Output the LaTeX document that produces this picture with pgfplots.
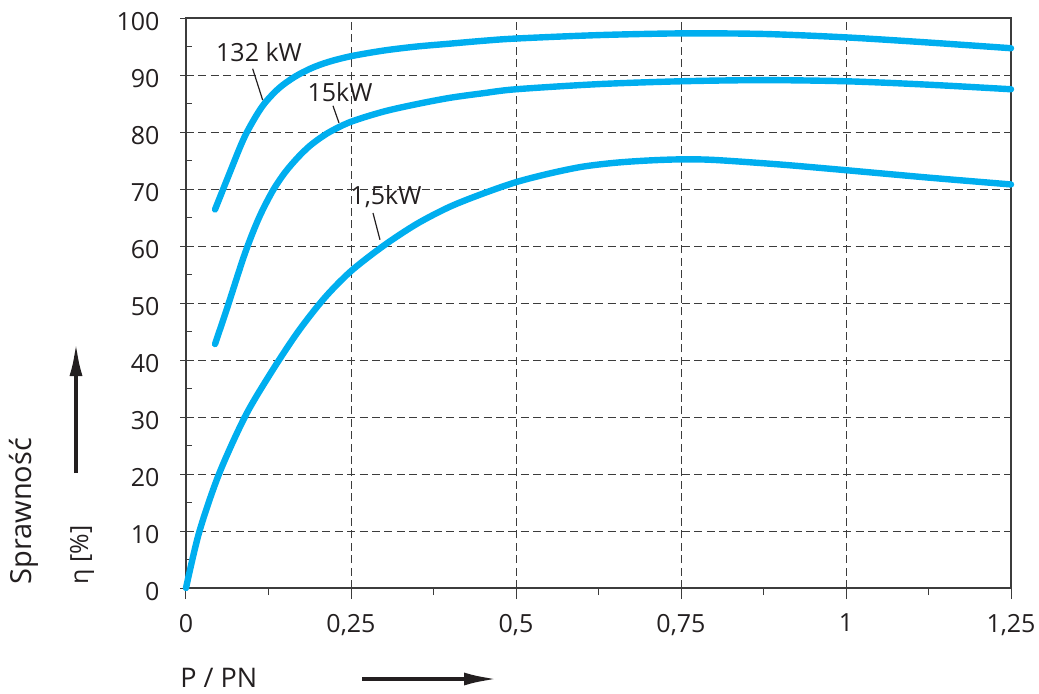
\documentclass[border=0pt]{standalone}
\usepackage{fontspec}
\setmainfont{Open Sans}
\usepackage{pgfplots}
\pgfplotsset{compat=1.18}
\usetikzlibrary{arrows.meta}
\definecolor{lc}{RGB}{0,174,239}
\definecolor{tx}{RGB}{35,31,32}
\definecolor{gr}{RGB}{60,60,60}
\begin{document}
\begin{tikzpicture}
\path[use as bounding box] (-93pt,-52.5pt) rectangle (426.5pt,294pt);
\begin{axis}[
  at={(0,0)}, anchor=south west,
  scale only axis, width=412.5pt, height=285pt,
  xmin=0, xmax=1.25, ymin=0, ymax=100,
  xtick={0,0.25,0.5,0.75,1,1.25},
  xticklabels={0,{0,25},{0,5},{0,75},1,{1,25}},
  minor xtick={0.125,0.375,0.625,0.875,1.125},
  ytick={0,10,...,100},
  minor ytick={5,15,...,95},
  xtick pos=bottom, ytick pos=left,
  xtick align=outside, ytick align=center,
  major tick length=5.5pt, minor tick length=3.5pt,
  tick style={gr, line width=0.5pt},
  minor y tick style={xshift=1.5pt},
  grid=major,
  major grid style={gr, dashed, dash pattern=on 4pt off 2.2pt, line width=0.5pt},
  axis line style={gr, line width=0.7pt},
  /pgf/number format/assume math mode=true,
  tick label style={font=\fontsize{12.5}{14}\selectfont, text=tx},
  xticklabel style={yshift=-4pt},
  yticklabel style={xshift=-7pt, yshift=-2pt},
  clip=false,
]
\addplot[lc, line width=3.2pt, line cap=round, smooth] coordinates {
(0.044,66.4) (0.064,72.2) (0.089,79.2) (0.115,84.4) (0.140,87.6) (0.165,89.7) (0.190,91.2) (0.216,92.3) (0.25,93.3) (0.3,94.3) (0.35,95.0) (0.4,95.5) (0.45,96.0) (0.5,96.4) (0.625,97.0) (0.75,97.3) (0.875,97.2) (1.0,96.6) (1.125,95.7) (1.25,94.7)};
\addplot[lc, line width=3.2pt, line cap=round, smooth] coordinates {
(0.044,42.8) (0.062,49.0) (0.089,58.6) (0.110,64.8) (0.131,69.6) (0.150,72.9) (0.170,75.6) (0.190,77.8) (0.216,79.9) (0.25,81.8) (0.3,83.6) (0.35,84.9) (0.4,86.0) (0.45,86.8) (0.5,87.5) (0.625,88.4) (0.75,88.9) (0.875,89.1) (1.0,88.9) (1.125,88.3) (1.25,87.5)};
\addplot[lc, line width=3.2pt, line cap=round, smooth] coordinates {
(0,0) (0.02,9.8) (0.05,20.0) (0.09,30.2) (0.13,38.0) (0.17,45.0) (0.21,50.9) (0.25,55.6) (0.30,60.1) (0.35,63.9) (0.40,66.9) (0.45,69.2) (0.50,71.2) (0.55,72.7) (0.60,73.9) (0.65,74.6) (0.70,75.0) (0.75,75.2) (0.80,75.1) (0.90,74.3) (1.00,73.3) (1.125,72.0) (1.25,70.8)};
\node[text=tx, font=\fontsize{12.5}{14}\selectfont, inner sep=0] at (axis cs:0.1106,94.0) {132 kW};
\node[text=tx, font=\fontsize{12.5}{14}\selectfont, inner sep=0] at (axis cs:0.2333,87.0) {15kW};
\node[text=tx, font=\fontsize{12.5}{14}\selectfont, inner sep=0] at (axis cs:0.3030,68.6) {1,5kW};
\draw[tx, line width=0.6pt] (axis cs:0.1010,91.1) -- (axis cs:0.1162,85.6);
\draw[tx, line width=0.6pt] (axis cs:0.2227,84.6) -- (axis cs:0.2318,81.6);
\draw[tx, line width=0.6pt] (axis cs:0.2833,65.8) -- (axis cs:0.2939,61.1);
\end{axis}
\node[rotate=90, anchor=west, inner sep=0, text=tx, font=\fontsize{14.5}{16}\selectfont] at (-81pt,1.5pt) {Sprawność};
\node[rotate=90, anchor=west, inner sep=0, text=tx, font=\fontsize{12.5}{14}\selectfont] at (-52pt,1.5pt) {η [\%]};
\draw[tx, line width=2pt, -{Latex[length=17pt,width=6.5pt]}] (-55pt,57.5pt) -- (-55pt,123pt);
\node[anchor=west, inner sep=0, text=tx, font=\fontsize{13.5}{15}\selectfont] at (-3pt,-45pt) {P / PN};
\draw[tx, line width=2pt, -{Latex[length=17pt,width=6.5pt]}] (88pt,-45.5pt) -- (156pt,-45.5pt);
\end{tikzpicture}
\end{document}
